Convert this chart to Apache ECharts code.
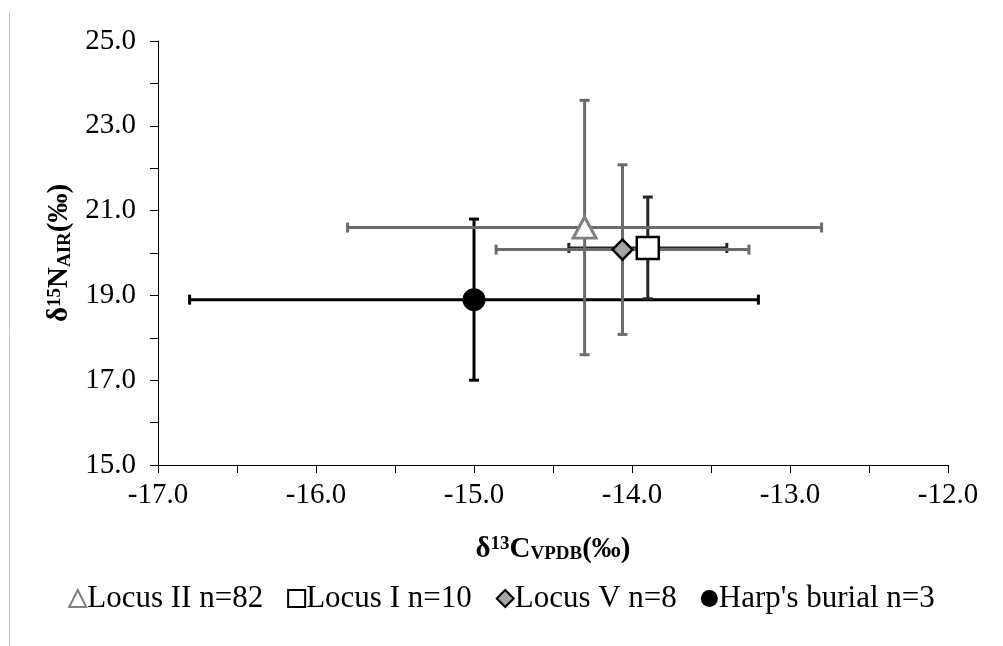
<!DOCTYPE html>
<html>
<head>
<meta charset="utf-8">
<script src="https://cdn.jsdelivr.net/npm/echarts@6/dist/echarts.min.js"></script>
<style>
  html, body { margin: 0; padding: 0; background: #fff; }
  #chart { width: 1003px; height: 646px; }
</style>
</head>
<body>
<div id="chart"></div>
<script>
// group values: mean and SD for each locus
const groups = ['Locus II n=82', 'Locus I n=10', 'Locus V n=8', "Harp's burial n=3"];
const meanC = [-14.3, -13.9, -14.06, -15.0];
const meanN = [20.6, 20.12, 20.08, 18.9];
const sdC = [1.5, 0.5, 0.8, 1.8];
const sdN = [3.0, 1.2, 2.0, 1.9];

const xTicks = [-17, -12];
const yTicks = [15, 25];

const FONT = '"Liberation Serif", "Times New Roman", serif';

const chartDom = document.getElementById('chart');
const myChart = echarts.init(chartDom);

// look of each group
const looks = [
    { symbol: 'triangle', size: [23, 21], fill: '#ffffff', border: '#7f7f7f', bw: 3, bar: '#6b6b6b' },
    { symbol: 'rect', size: 22, fill: '#ffffff', border: '#000000', bw: 2.5, bar: '#262626' },
    { symbol: 'diamond', size: 20, fill: '#a6a6a6', border: '#000000', bw: 2.5, bar: '#6b6b6b' },
    { symbol: 'circle', size: 23, fill: '#000000', border: '#000000', bw: 0, bar: '#000000' }
];

// error bars, drawn below the markers
function errorBars(i) {
    return {
        type: 'custom',
        silent: true,
        z: 2,
        data: [[meanC[i], meanN[i], sdC[i], sdN[i]]],
        renderItem: function (params, api) {
            const x = api.value(0), y = api.value(1), dx = api.value(2), dy = api.value(3);
            const l = api.coord([x - dx, y]), r = api.coord([x + dx, y]);
            const t = api.coord([x, y + dy]), b = api.coord([x, y - dy]);
            const cap = 5;
            const st = { stroke: looks[i].bar, lineWidth: 3 };
            const line = (x1, y1, x2, y2) => ({ type: 'line', shape: { x1, y1, x2, y2 }, style: st });
            return {
                type: 'group',
                children: [
                    line(l[0], l[1], r[0], r[1]),
                    line(l[0], l[1] - cap, l[0], l[1] + cap),
                    line(r[0], r[1] - cap, r[0], r[1] + cap),
                    line(t[0], t[1], b[0], b[1]),
                    line(t[0] - cap, t[1], t[0] + cap, t[1]),
                    line(b[0] - cap, b[1], b[0] + cap, b[1])
                ]
            };
        }
    };
}

const barOrder = [3, 1, 2, 0];
const series = barOrder.map(errorBars);
groups.forEach((name, i) => {
    series.push({
        name: name,
        type: 'scatter',
        z: 5,
        symbol: looks[i].symbol,
        symbolSize: looks[i].size,
        itemStyle: { color: looks[i].fill, borderColor: looks[i].border, borderWidth: looks[i].bw, opacity: 1 },
        data: [[meanC[i], meanN[i]]]
    });
});

const titleRich = {
    b: { fontFamily: FONT, fontSize: 29, fontWeight: 'bold', color: '#000' },
    sup: { fontFamily: FONT, fontSize: 19, fontWeight: 'bold', color: '#000', verticalAlign: 'top', padding: [0, 0, 10, 0] },
    sub: { fontFamily: FONT, fontSize: 19, fontWeight: 'bold', color: '#000', verticalAlign: 'bottom', padding: [10, 0, 0, 0] }
};

const option = {
    animation: false,
    backgroundColor: '#ffffff',
    textStyle: { fontFamily: FONT },
    grid: { left: 158, right: 55, top: 41, bottom: 181 },
    graphic: [{
        type: 'line',
        shape: { x1: 9.5, y1: 11, x2: 9.5, y2: 646 },
        style: { stroke: '#c8c8c8', lineWidth: 1 }
    }],
    legend: {
        bottom: 27,
        left: 'center',
        itemGap: 24,
        itemWidth: 17,
        itemHeight: 17,
        data: groups,
        textStyle: { fontFamily: FONT, fontSize: 31, color: '#000', padding: [0, 0, 0, -4] }
    },
    xAxis: {
        type: 'value',
        min: xTicks[0],
        max: xTicks[1],
        interval: 1,
        name: '{b|δ}{sup|13}{b|C}{sub|VPDB}{b|(‰)}',
        nameLocation: 'middle',
        nameGap: 70,
        nameTextStyle: { rich: titleRich },
        axisLine: { onZero: false, lineStyle: { color: '#000', width: 1 } },
        axisTick: { show: true, inside: false, length: 8, lineStyle: { color: '#000' } },
        minorTick: { show: true, splitNumber: 2, length: 8, lineStyle: { color: '#000' } },
        splitLine: { show: false },
        axisLabel: {
            margin: 16,
            fontFamily: FONT, fontSize: 29, color: '#000',
            formatter: v => v.toFixed(1)
        }
    },
    yAxis: {
        type: 'value',
        min: yTicks[0],
        max: yTicks[1],
        interval: 2,
        name: '{b|δ}{sup|15}{b|N}{sub|AIR}{b|(‰)}',
        nameLocation: 'middle',
        nameGap: 72,
        nameRotate: 90,
        nameTextStyle: { rich: titleRich },
        axisLine: { onZero: false, lineStyle: { color: '#000', width: 1 } },
        axisTick: { show: true, inside: false, length: 8, lineStyle: { color: '#000' } },
        minorTick: { show: true, splitNumber: 2, length: 8, lineStyle: { color: '#000' } },
        splitLine: { show: false },
        axisLabel: {
            margin: 22,
            fontFamily: FONT, fontSize: 29, color: '#000',
            formatter: v => v.toFixed(1)
        }
    },
    series: series
};

myChart.setOption(option);
</script>
</body>
</html>
